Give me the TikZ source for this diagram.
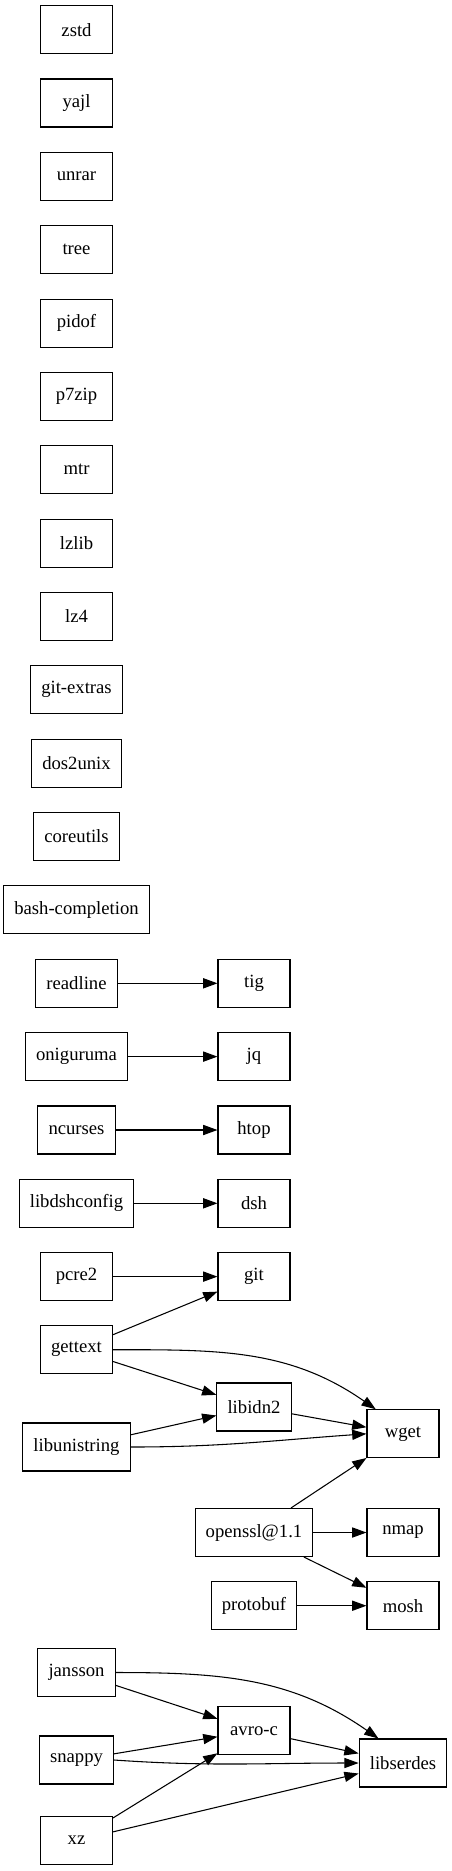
\documentclass[tikz,border=0pt]{standalone}
\usepackage{fontspec}
\setmainfont{Liberation Serif}
\usetikzlibrary{arrows.meta}
\begin{document}
\begin{tikzpicture}[x=0.75pt, y=-0.75pt,
	pkg/.style={rectangle, draw, line width=0.8pt, font=\fontsize{14}{16}\selectfont, minimum width=54pt, minimum height=36pt, inner xsep=8pt},
	dep/.style={-{Triangle[length=10.7pt,width=7.6pt]}, line width=0.8pt}]
	\useasboundingbox (0,0) rectangle (452,1871);
	% pacchetti senza dipendenze
	\node [pkg] (zstd) at (76.5,29.7) {zstd};
	\node [pkg] (yajl) at (76.5,103) {yajl};
	\node [pkg] (unrar) at (76.5,176.4) {unrar};
	\node [pkg] (tree) at (76.5,249.7) {tree};
	\node [pkg] (pidof) at (76.5,323.1) {pidof};
	\node [pkg] (p7zip) at (76.5,396.4) {p7zip};
	\node [pkg] (mtr) at (76.5,469.8) {mtr};
	\node [pkg] (lzlib) at (76.5,543.1) {lzlib};
	\node [pkg] (lz4) at (76.5,616.5) {lz4};
	\node [pkg] (gitextras) at (76.5,689.8) {git-extras};
	\node [pkg] (dos2unix) at (76.5,763.2) {dos2unix};
	\node [pkg] (coreutils) at (76.5,836.5) {coreutils};
	\node [pkg] (bashcompletion) at (76.5,909.9) {bash-completion};
	% colonna sinistra
	\node [pkg] (readline) at (76.5,983.3) {readline};
	\node [pkg] (oniguruma) at (76.5,1056.6) {oniguruma};
	\node [pkg] (ncurses) at (76.5,1130) {ncurses};
	\node [pkg] (libdshconfig) at (76.5,1203.3) {libdshconfig};
	\node [pkg] (pcre2) at (76.5,1276.6) {pcre2};
	\node [pkg] (gettext) at (76.5,1349.7) {gettext};
	\node [pkg] (libunistring) at (76.5,1447) {libunistring};
	\node [pkg] (jansson) at (76.5,1672.5) {jansson};
	\node [pkg] (snappy) at (76.5,1760) {snappy};
	\node [pkg] (xz) at (76.5,1840.5) {xz};
	% colonna centrale
	\node [pkg] (tig) at (254,983.3) {tig};
	\node [pkg] (jq) at (254,1056.6) {jq};
	\node [pkg] (htop) at (254,1130) {htop};
	\node [pkg] (dsh) at (254,1203.3) {dsh};
	\node [pkg] (git) at (254,1276.6) {git};
	\node [pkg] (libidn2) at (254,1407) {libidn2};
	\node [pkg] (openssl) at (254,1532.5) {openssl@1.1};
	\node [pkg] (protobuf) at (254,1605.7) {protobuf};
	\node [pkg] (avroc) at (254,1730.7) {avro-c};
	% colonna destra
	\node [pkg] (wget) at (403,1433.8) {wget};
	\node [pkg] (nmap) at (403,1532.5) {nmap};
	\node [pkg] (mosh) at (403,1605.7) {mosh};
	\node [pkg] (libserdes) at (403,1763) {libserdes};

	\draw [dep] (readline) -- (tig);
	\draw [dep] (oniguruma) -- (jq);
	\draw [dep] (ncurses) -- (htop);
	\draw [dep] (libdshconfig) -- (dsh);
	\draw [dep] (pcre2) -- (git);
	\draw [dep] (gettext) -- (git);
	\draw [dep] (gettext) -- (libidn2);
	\draw [dep] (gettext.east) to[out=0, in=145] (wget.138);
	\draw [dep] (libunistring) -- (libidn2);
	\draw [dep] (libunistring.east) to[out=0, in=184] (wget.west);
	\draw [dep] (libidn2) -- (wget);
	\draw [dep] (openssl) -- (wget);
	\draw [dep] (openssl) -- (nmap);
	\draw [dep] (openssl) -- (mosh);
	\draw [dep] (protobuf) -- (mosh);
	\draw [dep] (jansson) -- (avroc);
	\draw [dep] (jansson.east) to[out=0, in=145] (libserdes.135);
	\draw [dep] (snappy) -- (avroc);
	\draw [dep] (snappy.east) to[out=-4, in=180] (libserdes.west);
	\draw [dep] (xz) -- (avroc);
	\draw [dep] (xz) -- (libserdes);
	\draw [dep] (avroc) -- (libserdes);
\end{tikzpicture}
\end{document}
